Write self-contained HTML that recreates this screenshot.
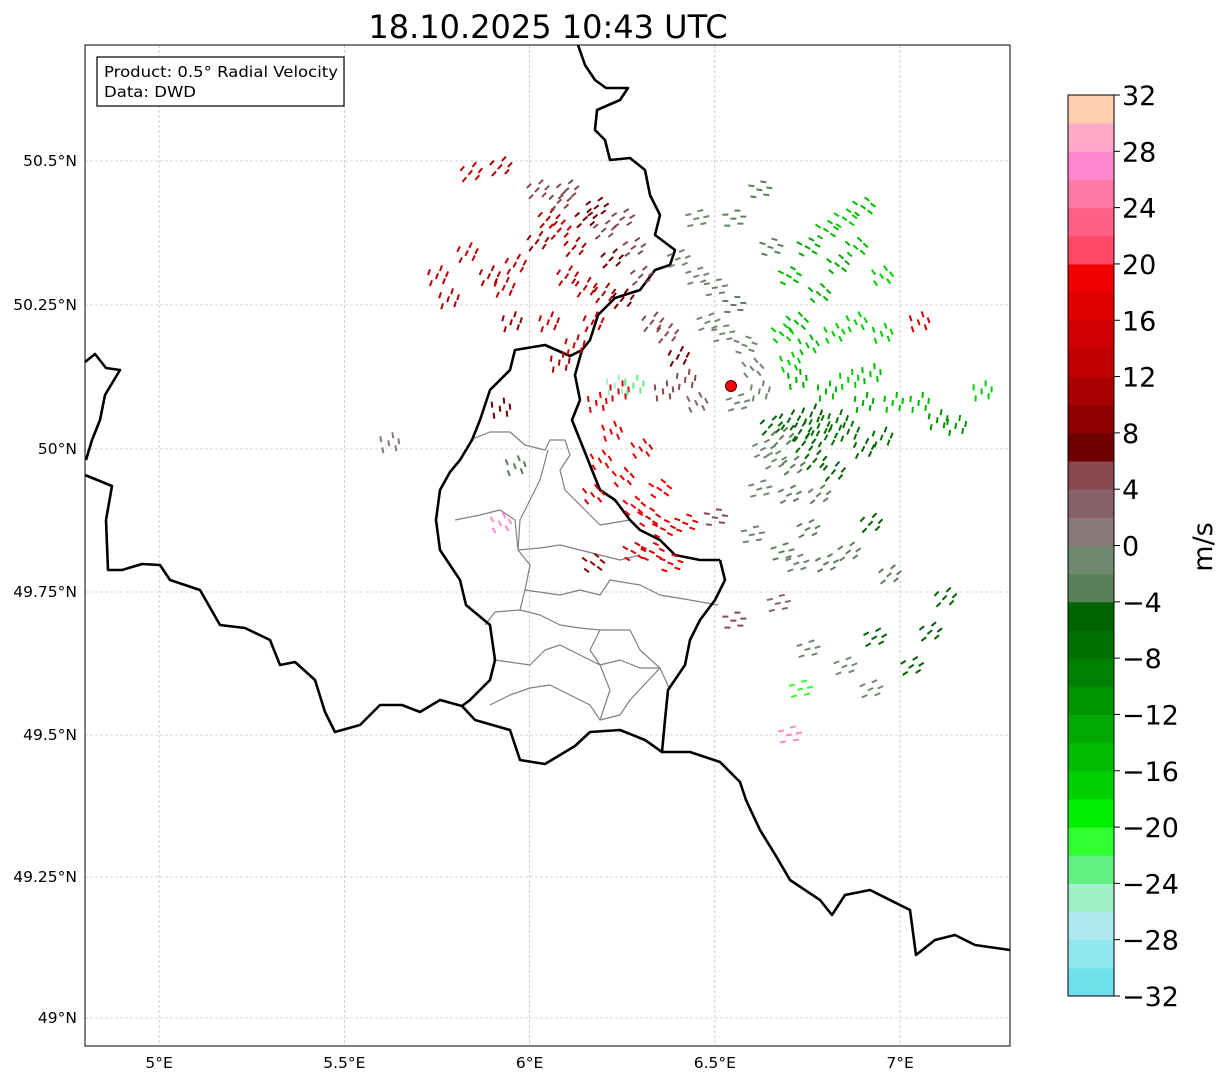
<!DOCTYPE html>
<html><head><meta charset="utf-8"><style>
body{margin:0;background:#fff;font-family:"DejaVu Sans","Liberation Sans",sans-serif;}
svg text{font-family:"DejaVu Sans","Liberation Sans",sans-serif;}
</style></head><body>
<svg id="chart" width="1225" height="1081" xmlns="http://www.w3.org/2000/svg">
<rect width="1225" height="1081" fill="#fff"/>
<text x="548" y="38" font-size="32" text-anchor="middle">18.10.2025 10:43 UTC</text>
<g id="grid"></g>
<g id="borders" fill="none" stroke-linejoin="round">
<polyline stroke="#808080" stroke-width="1.2" points="470,440 490,432 510,432 525,445 545,450 550,440 565,440 570,455 560,470 565,490 585,510 600,525 630,520 640,530"/>
<polyline stroke="#808080" stroke-width="1.2" points="548,450 540,480 530,500 520,520 518,550 540,548 560,545 580,550 600,555 620,560 640,555"/>
<polyline stroke="#808080" stroke-width="1.2" points="455,520 480,515 500,510 515,520 518,550 530,565 525,590 520,610 495,612 485,625"/>
<polyline stroke="#808080" stroke-width="1.2" points="525,590 560,595 580,590 600,595 610,580 640,585 660,595 690,600 718,605"/>
<polyline stroke="#808080" stroke-width="1.2" points="520,610 540,615 560,625 580,628 600,630 630,630 640,650 660,668 670,690"/>
<polyline stroke="#808080" stroke-width="1.2" points="495,660 530,665 545,650 560,645 580,655 600,665 620,660 640,668 660,668 630,700 620,715 600,720 590,705 570,695 550,685 530,688 510,695 490,705"/>
<polyline stroke="#808080" stroke-width="1.2" points="600,630 590,650 600,665 610,690 600,720"/>
<polyline stroke="#000" stroke-width="2.6" points="582,350 570,356 545,345 515,350 510,370 490,390 480,420 472,440 460,460 450,472 440,490 436,520 440,550 460,580 466,605 490,625 495,660 490,680 470,700 462,706 475,720 510,730 520,760 545,764 575,746 590,732 620,730 645,740 662,752 665,720 668,690 685,665 690,640 700,620 715,600 725,580 720,560"/>
<polyline stroke="#000" stroke-width="2.6" points="578,45 585,65 595,80 606,88 628,88 620,100 597,110 595,130 605,140 610,160 630,158 645,170 650,195 660,215 655,235 675,250 670,265 655,270 640,290 615,298 598,315 590,340 582,350 575,375 580,400 572,420 580,440 590,465 600,490 615,500 630,520 640,530 660,540 675,555 700,560 720,560"/>
<polyline stroke="#000" stroke-width="2.6" points="645,740 662,752 690,752 720,762 740,782 746,800 760,830 776,856 790,880 820,900 832,915 845,895 870,890 900,905 910,910 916,955 935,940 955,935 975,945 1010,950"/>
<polyline stroke="#000" stroke-width="2.6" points="85,475 112,486 106,520 108,570 122,570 142,564 160,565 170,580 200,590 220,625 245,628 270,640 280,665 295,662 315,680 325,712 335,732 360,725 380,705 402,705 420,712 440,700 462,706"/>
<polyline stroke="#000" stroke-width="2.6" points="85,362 95,354 106,368 120,370 105,395 100,420 92,440 86,460"/>
</g>
<g id="echoes"></g>
<circle cx="731" cy="386" r="5.5" fill="#f00" stroke="#400" stroke-width="1"/>
<rect x="85" y="45" width="925" height="1001" fill="none" stroke="#000" stroke-width="1"/>
<g id="ticks" font-size="15.5"></g>
<g>
<rect x="97" y="57" width="247" height="49" fill="#fff" stroke="#000" stroke-width="1.2"/>
<text x="104" y="77" font-size="15" textLength="234" lengthAdjust="spacingAndGlyphs">Product: 0.5° Radial Velocity</text>
<text x="104" y="97" font-size="15" textLength="92" lengthAdjust="spacingAndGlyphs">Data: DWD</text>
</g>
<g id="cbar" font-size="27"></g>
<text transform="translate(1212,547) rotate(-90)" font-size="27" text-anchor="middle">m/s</text>
</svg>
<script>
const lonTicks=[5,5.5,6,6.5,7];
const lonLabels=["5°E","5.5°E","6°E","6.5°E","7°E"];
const latTicks=[49,49.25,49.5,49.75,50,50.25,50.5];
const latLabels=["49°N","49.25°N","49.5°N","49.75°N","50°N","50.25°N","50.5°N"];
const cbarTicks=[-32,-28,-24,-20,-16,-12,-8,-4,0,4,8,12,16,20,24,28,32];
const cbarColors=["#70e0e8","#90e8ee","#b0e8f0","#a0f0c8","#60f080","#30ff30","#00f000","#00d000","#00bc00","#00a800","#009400","#008000","#007000","#006400","#5a8058","#708870","#887878","#886068","#884850","#700000","#900000","#a80000","#c00000","#d00000","#e00000","#f00000","#ff4866","#ff6088","#ff7aa8","#ff88d0","#ffa8c8","#ffcdb0"];
const echoLon=[5.84,5.92,5.75,5.78,5.83,5.89,5.96,5.93,6.02,6.05,6.08,6.12,6.10,6.15,6.20,6.05,6.08,6.12,6.17,5.95,
6.02,6.10,6.18,6.20,6.25,6.28,6.22,6.30,6.25,6.33,6.37,6.40,6.42,6.36,6.45,6.15,6.08,
6.18,6.22,6.19,6.25,6.28,6.32,6.35,6.30,6.24,6.36,6.42,6.33,6.38,6.28,6.17,
6.23,6.28,
6.45,6.50,6.55,6.52,6.58,6.48,6.60,6.62,6.56,6.65,6.55,6.62,6.45,6.40,
6.70,6.75,6.80,6.85,6.90,6.83,6.78,6.72,6.68,6.75,6.82,6.88,6.95,6.92,6.86,6.80,6.72,6.90,6.98,7.05,6.95,6.88,6.70,7.10,
6.65,6.70,6.73,6.76,6.78,6.80,6.83,6.86,6.74,6.68,6.63,6.66,6.71,6.77,6.82,6.90,6.95,6.62,6.70,6.78,
6.60,6.68,6.75,6.80,6.86,6.92,6.97,6.93,7.03,7.08,7.12,6.85,6.72,6.67,6.75,6.92,6.73,6.70,6.55,6.50,
5.92,5.96,5.62,5.92,6.17,7.15,7.22,7.05];
const echoLat=[50.48,50.49,50.30,50.26,50.34,50.30,50.32,50.28,50.36,50.40,50.38,50.35,50.30,50.28,50.27,50.22,50.15,50.18,50.22,50.22,
50.45,50.45,50.42,50.38,50.40,50.35,50.33,50.30,50.26,50.22,50.20,50.16,50.12,50.10,50.08,50.40,50.43,
50.08,50.03,49.98,49.95,49.90,49.88,49.93,50.00,50.10,49.86,49.87,49.82,49.80,49.82,49.92,
50.11,50.11,
50.30,50.28,50.25,50.20,50.18,50.22,50.14,50.10,50.08,50.35,50.40,50.45,50.40,50.33,
50.30,50.35,50.38,50.40,50.42,50.32,50.27,50.22,50.20,50.18,50.20,50.22,50.20,50.13,50.12,50.10,50.12,50.08,50.08,50.08,50.30,50.35,50.15,50.05,
50.04,50.05,50.03,50.06,50.04,50.02,50.05,50.03,50.01,50.02,50.00,49.98,49.97,49.98,49.96,50.00,50.02,49.93,49.92,49.92,
49.85,49.82,49.86,49.80,49.82,49.87,49.78,49.67,49.62,49.68,49.74,49.62,49.80,49.73,49.65,49.58,49.58,49.50,49.70,49.88,
50.07,49.97,50.01,49.87,49.80,50.04,50.10,50.22];
const echoVel=[12,10,12,10,12,10,12,12,8,10,12,10,12,12,10,12,10,14,12,8,
4,4,6,4,4,4,6,4,6,4,4,6,4,4,2,6,4,
16,18,16,16,18,16,18,16,16,16,18,16,18,14,14,
-26,-24,
-2,-2,-4,-2,-2,-2,-2,-2,-2,-4,-4,-4,-2,-2,
-16,-14,-16,-18,-16,-14,-14,-16,-18,-16,-18,-18,-18,-16,-18,-16,-14,-14,-16,-16,-18,-16,-18,-12,
-6,-6,-8,-6,-8,-8,-8,-8,-6,-4,-2,-2,-4,-6,-6,-6,-8,-2,-4,-4,
-2,-4,-4,-4,-4,-6,-4,-6,-6,-6,-6,-2,-2,2,-2,-2,-22,26,4,4,
6,-4,0,26,8,-12,-18,14];
const radarLon=6.545, radarLat=50.11;

const NS="http://www.w3.org/2000/svg";
const latRef=[49,49.25,49.5,49.75,50,50.25,50.5];
const latPx=[1018,877,735,592,449,305,161];
function xOf(lon){return 85+(lon-4.8)*370.5;}
function yOf(lat){
  let i=0; if(lat>=latRef[latRef.length-1]) i=latRef.length-2; else {while(i<latRef.length-2 && lat>latRef[i+1]) i++;}
  return latPx[i]+(lat-latRef[i])*(latPx[i+1]-latPx[i])/(latRef[i+1]-latRef[i]);
}
function mk(tag,attrs,parent){const e=document.createElementNS(NS,tag);for(const k in attrs)e.setAttribute(k,attrs[k]);parent.appendChild(e);return e;}
function colorOf(v){let i=Math.floor((v+32)/2);i=Math.max(0,Math.min(31,i));return cbarColors[i];}

const grid=document.getElementById('grid'), ticks=document.getElementById('ticks');
lonTicks.forEach((t,i)=>{const x=xOf(t);
  const l=mk('line',{x1:x,x2:x,y1:45,y2:1046,stroke:'#b0b0b0','stroke-width':0.6,'stroke-dasharray':'3,2'},grid);
  
  
  const tx=mk('text',{x:x,y:1068,'text-anchor':'middle'},ticks);tx.textContent=lonLabels[i];
  
  
});
latTicks.forEach((t,i)=>{const y=yOf(t);
  const l=mk('line',{x1:85,x2:1010,y1:y,y2:y,stroke:'#b0b0b0','stroke-width':0.6,'stroke-dasharray':'3,2'},grid);
  
  
  const tx=mk('text',{x:77,y:y+5,'text-anchor':'end'},ticks);tx.textContent=latLabels[i];
  
  
});

const eg=document.getElementById('echoes');
const rx=xOf(radarLon), ry=yOf(radarLat);
const offs=[[0,0],[7,5],[-6,7],[4,-8],[-8,-4],[10,-2]];
echoLon.forEach((lon,i)=>{
  const x=xOf(lon), y=yOf(echoLat[i]);
  const ang=Math.atan2(y-ry,x-rx)*180/Math.PI+90;
  const c=colorOf(echoVel[i]);
  offs.forEach(o=>{
    const r=mk('rect',{x:x+o[0]-3,y:y+o[1]-1,width:6,height:2,fill:c,transform:`rotate(${ang.toFixed(1)} ${x+o[0]} ${y+o[1]})`},eg);
    
    
  });
});

const cb=document.getElementById('cbar');
const cbTop=95, cbBot=996, cbX=1068, cbW=46;
function cbY(v){return cbBot-(v+32)/64*(cbBot-cbTop);}
cbarColors.forEach((c,i)=>{const v=-32+i*2;
  const r=mk('rect',{x:cbX,y:cbY(v+2),width:cbW,height:cbY(v)-cbY(v+2)+0.5,fill:c},cb);
  
  
});
mk('rect',{x:cbX,y:cbTop,width:cbW,height:cbBot-cbTop,fill:'none',stroke:'#000','stroke-width':1},cb);
cbarTicks.forEach(t=>{const y=cbY(t);
  mk('line',{x1:cbX+cbW,x2:cbX+cbW+6,y1:y,y2:y,stroke:'#000'},cb);
  const tx=mk('text',{x:cbX+cbW+8,y:y+10},cb);tx.textContent=t<0?'\u2212'+Math.abs(t):String(t);
  
  
});
</script>
</body></html>
